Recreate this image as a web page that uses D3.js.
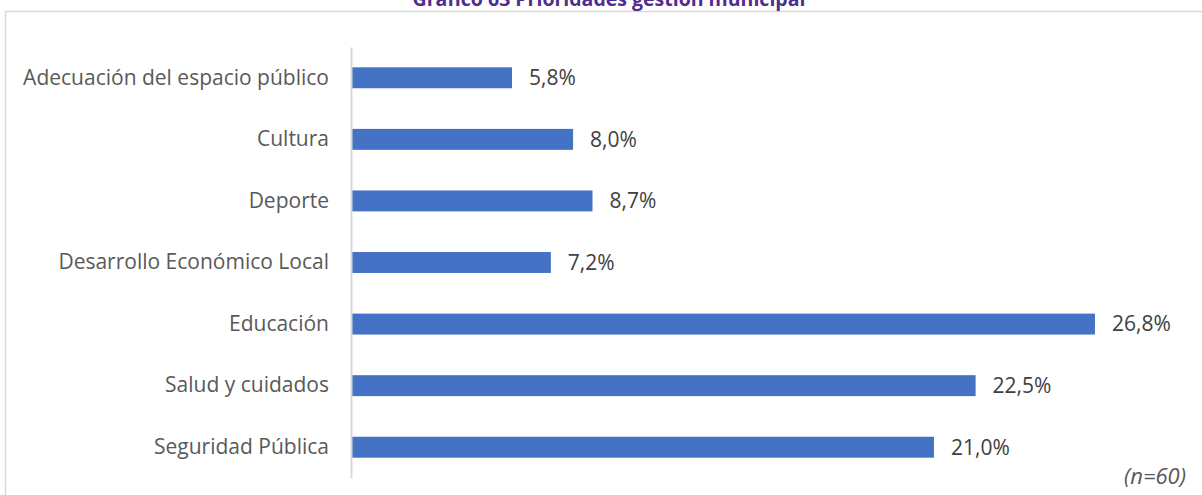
<!DOCTYPE html>
<html><head><meta charset="utf-8">
<script src="https://cdn.jsdelivr.net/npm/d3@7"></script>
<style>body{margin:0;background:#fff}svg{display:block}</style>
</head><body>
<script>
const categories = ["Adecuación del espacio público","Cultura","Deporte","Desarrollo Económico Local","Educación","Salud y cuidados","Seguridad Pública"];
const values = [5.8, 8.0, 8.7, 7.2, 26.8, 22.5, 21.0];
const title = "Gráfico 63 Prioridades gestión municipal";
const note = "(n=60)";

const W = 1202, H = 495;
const svg = d3.select("body").append("svg").attr("width", W).attr("height", H);
const font = "'Open Sans', sans-serif";

svg.append("rect").attr("x", 5.5).attr("y", 11.5).attr("width", W + 20).attr("height", H + 20)
  .attr("fill", "#fff").attr("stroke", "#d9d9d9").attr("stroke-width", 1.5);

svg.append("text").attr("x", 609).attr("y", 5.5).attr("text-anchor", "middle")
  .attr("font-family", font).attr("font-weight", "bold").attr("font-size", 19.5)
  .attr("fill", "#4f2d8f").text(title);

const x0 = 351;
const x = d3.scaleLinear().domain([0, 30]).range([x0, x0 + 832.8]);
const y = d3.scaleBand().domain(categories).range([47, 478]).paddingInner(0.66).paddingOuter(0.33);

svg.selectAll("rect.bar").data(categories).enter().append("rect").attr("class", "bar")
  .attr("x", x(0)).attr("y", d => y(d))
  .attr("width", (d, i) => x(values[i]) - x(0)).attr("height", y.bandwidth())
  .attr("fill", "#4472c4");

const yAxis = d3.axisLeft(y).tickSize(0).tickPadding(22);
const ga = svg.append("g").attr("transform", `translate(${x0},0)`).call(yAxis);
ga.select(".domain").attr("stroke", "#d9d9d9").attr("stroke-width", 2);
ga.selectAll("text").attr("font-family", font).attr("font-size", 21).attr("fill", "#595959");

svg.selectAll("text.val").data(categories).enter().append("text").attr("class", "val")
  .attr("x", (d, i) => x(values[i]) + 17).attr("y", d => y(d) + y.bandwidth() / 2)
  .attr("dy", "0.35em").attr("font-family", font).attr("font-size", 21).attr("fill", "#404040")
  .text((d, i) => values[i].toFixed(1).replace(".", ",") + "%");

svg.append("text").attr("x", 1186).attr("y", 484).attr("text-anchor", "end")
  .attr("font-family", font).attr("font-style", "italic").attr("font-size", 22)
  .attr("fill", "#595959").text(note);
</script>
</body></html>
